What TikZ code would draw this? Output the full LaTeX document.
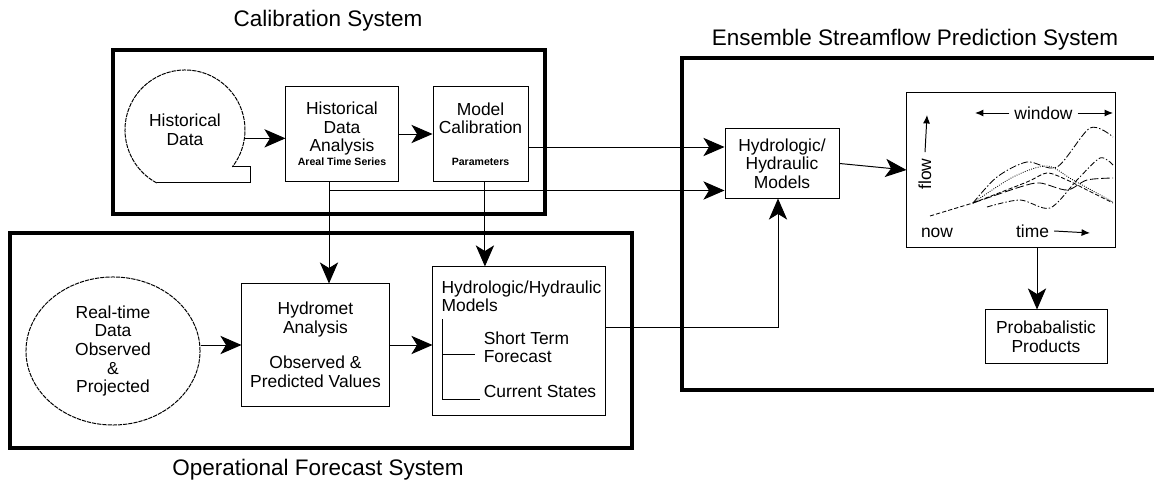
\documentclass[tikz,border=0pt]{standalone}
\usepackage{fontspec}
\setmainfont{Liberation Sans}
\usetikzlibrary{shapes.geometric, arrows.meta, positioning}

\newcommand{\boxfont}{\fontsize{12.4}{13.2}\selectfont}
\newcommand{\titlefont}{\fontsize{16}{19}\selectfont}
\newcommand{\tinyfont}{\fontsize{7.5}{9}\selectfont\bfseries}

\begin{document}
\begin{tikzpicture}[
    x=0.025cm, y=0.025cm,
    every node/.style={font=\boxfont},
    frame/.style  ={line width=3.5pt},
    block/.style  ={rectangle, draw, line width=0.7pt, align=center, inner sep=0pt},
    store/.style  ={ellipse, draw, line width=0.7pt, dash pattern=on 3pt off 0.7pt,
                    align=center, inner sep=0pt},
    tape/.style   ={circle, minimum size=3cm, inner sep=0pt, outer sep=0pt, align=center},
    heading/.style={font=\titlefont},
    arr/.style    ={-{Stealth[length=15pt, width=13pt, inset=4pt]}, line width=0.7pt},
    axisarr/.style={-{Latex[length=6pt, width=5pt]}, line width=0.7pt},
    member/.style ={line width=0.6pt},
]
\useasboundingbox (0,0) rectangle (1154,485);

% ── System frames ────────────────────────────────────────────
\draw[frame] (113,271) rectangle (545,435);
\draw[frame] (10,37) rectangle (632,252);
\draw[frame] (1160,427) -- (682,427) -- (682,95) -- (1160,95);

\node[heading] (caltitle) at (328,464) {Calibration System};
\node[heading] (esptitle) at (915,445) {Ensemble Streamflow Prediction System};
\node[heading] (optitle)  at (318,15)  {Operational Forecast System};

% ── Calibration system ───────────────────────────────────────
\node[tape] (hist) at (185,355) {Historical\\Data};
\draw[line width=0.7pt, dash pattern=on 3pt off 0.7pt]
    (hist.242) arc[start angle=242, end angle=-38, radius=1.5cm];
\draw[line width=0.7pt] (hist.242) -| ([xshift=0.45cm]hist.-38) -- (hist.-38);

\node[block, minimum width=2.8cm, minimum height=2.35cm] (hda) at (342,351)
    {Historical\\Data\\Analysis\\[-3pt]{\tinyfont Areal Time Series}};
\node[block, minimum width=2.375cm, minimum height=2.35cm, right=0.85cm of hda] (mcal)
    {Model\\Calibration\\[9pt]{\tinyfont Parameters}};

% ── Operational forecast system ──────────────────────────────
\node[store, minimum width=4.35cm, minimum height=3.7cm] (rt) at (113,134)
    {Real-time\\Data\\Observed\\\&\\Projected};
\node[block, minimum width=3.675cm, minimum height=3.05cm] (hydromet) at (315.5,140)
    {Hydromet\\Analysis\\[12pt]Observed \&\\Predicted Values};
\node[block, minimum width=4.3cm, minimum height=3.7cm] (hhmop) at (519,144) {};
\node[align=left, inner sep=0pt, below right=0.35cm and 0.22cm of hhmop.north west] (hhmtitle)
    {Hydrologic/Hydraulic\\Models};
\node[align=left, inner sep=0pt, below right=1.625cm and 1.275cm of hhmop.north west] (shortterm)
    {Short Term\\Forecast};
\node[align=left, inner sep=0pt, below right=2.975cm and 1.275cm of hhmop.north west] (current)
    {Current States};

\coordinate (treetop) at ([shift={(0.25cm,-1.325cm)}]hhmop.north west);
\coordinate (treemid) at ([shift={(0.25cm,-2.2cm)}]hhmop.north west);
\coordinate (treebot) at ([shift={(0.25cm,-3.325cm)}]hhmop.north west);
\draw[line width=0.7pt] (treetop) -- (treebot) -- ([xshift=-0.1cm]treebot -| current.west);
\draw[line width=0.7pt] (treemid) -- ([xshift=-0.22cm]treemid -| shortterm.west);

% ── Ensemble streamflow prediction system ────────────────────
\node[block, minimum width=2.85cm, minimum height=1.725cm] (hhmesp) at (782,321.5)
    {Hydrologic/\\Hydraulic\\Models};
\node[block, minimum width=5.2cm, minimum height=3.85cm] (graph) at (1011,315) {};
\node[block, minimum width=3.05cm, minimum height=1.325cm] (prob) at (1046,148.5)
    {Probabalistic\\Products};

% graph inside the trace box
\node[inner sep=0pt] (window) at (1043.5,372) {window};
\coordinate (winL) at (975,372);
\coordinate (winR) at (1113,372);
\draw[axisarr] ([xshift=-0.12cm]window.west) -- (winL);
\draw[axisarr] ([xshift=0.12cm]window.east) -- (winR);

\node[inner sep=0pt, rotate=90] (flow) at (925,311) {flow};
\coordinate (flowtip) at (927,370);
\draw[axisarr] ([yshift=0.15cm]flow.east) -- (flowtip);

\node[inner sep=0pt] (now)  at (937,252.5)  {now};
\node[inner sep=0pt] (time) at (1032.5,254) {time};
\coordinate (timetip) at (1090,252);
\draw[axisarr] ([xshift=0.12cm]time.east) -- (timetip);

\draw[member, dash pattern=on 3pt off 1.5pt] (930,269) -- (973,282);
\draw[member, dash pattern=on 5pt off 1.5pt on 1pt off 1.5pt]
    plot[smooth] coordinates {(973,282) (997,308) (1027,323) (1057,318) (1090,357) (1113,348)};
\draw[member, densely dotted]
    plot[smooth] coordinates {(973,282) (1013,308) (1047,319) (1073,305) (1113,283)};
\draw[member, dash pattern=on 3pt off 1.5pt]
    plot[smooth] coordinates {(973,282) (1027,303) (1047,312) (1067,305) (1087,295) (1113,282)};
\draw[member, dash pattern=on 6pt off 2pt]
    plot[smooth] coordinates {(973,282) (1020,298) (1040,302) (1067,295) (1087,305) (1113,307)};
\draw[member, dash pattern=on 4pt off 1.5pt on 1pt off 1.5pt]
    plot[smooth] coordinates {(987,278) (1020,285) (1050,277) (1077,305) (1100,327) (1113,320)};

% ── Connectors ───────────────────────────────────────────────
\draw[arr] (hist.-8) -- (hist.-8 -| hda.west);
\draw[arr] (hda.east) -- (mcal.west);

\coordinate (mcout) at ([yshift=-0.325cm]mcal.east);
\draw[arr] (mcout) -- (mcout -| hhmesp.west);

\coordinate (hdaout) at ([xshift=-0.325cm]hda.south);
\draw[arr] (hdaout) -- (hdaout |- hydromet.north);
\coordinate (split) at ([yshift=-0.225cm]hdaout);
\draw[arr] (split) -- (split -| hhmesp.west);

\coordinate (mcdown) at ([xshift=0.11cm]mcal.south);
\draw[arr] (mcdown) -- (mcdown |- hhmop.north);

\draw[arr] (rt.east |- hydromet.west) -- (hydromet.west);
\draw[arr] (hydromet.east) -- (hydromet.east -| hhmop.west);

\coordinate (opout) at ([yshift=0.35cm]hhmop.east);
\draw[arr] (opout) -| ([xshift=-0.1cm]hhmesp.south);

\draw[arr] (hhmesp.east) -- (graph.west);
\coordinate (graphout) at ([xshift=0.65cm]graph.south);
\draw[arr] (graphout) -- (graphout |- prob.north);

\end{tikzpicture}
\end{document}
